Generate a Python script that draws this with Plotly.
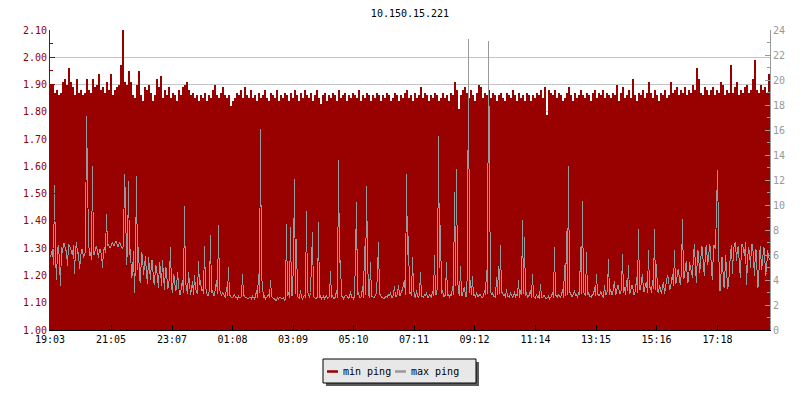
import plotly.graph_objects as go
import pandas as pd

# ---------------- data ----------------
title_text = "10.150.15.221"
start_time = "2024-01-01 19:03"
min_step_minutes = 4
max_step_minutes = 2

tick_labels = ["19:03", "21:05", "23:07", "01:08", "03:09", "05:10",
               "07:11", "09:12", "11:14", "13:15", "15:16", "17:18"]

# min ping (left axis units), one value every 4 minutes
min_ping = [
    1.90, 1.90, 1.87, 1.88, 1.86, 1.87, 1.91, 1.92, 1.90, 1.96, 1.91, 1.89, 1.86, 1.92, 1.87, 1.88, 1.86, 1.87, 1.92, 1.88,
    1.87, 1.92, 1.89, 1.90, 1.94, 1.88, 1.89, 1.87, 1.91, 1.88, 1.94, 1.86, 1.88, 1.89, 1.90, 1.97, 2.10, 1.91, 1.90, 1.95,
    1.91, 1.86, 1.85, 1.90, 1.95, 1.86, 1.84, 1.89, 1.88, 1.90, 1.87, 1.84, 1.86, 1.92, 1.89, 1.93, 1.85, 1.88, 1.86, 1.89,
    1.85, 1.87, 1.86, 1.84, 1.88, 1.86, 1.89, 1.90, 1.91, 1.88, 1.86, 1.87, 1.85, 1.86, 1.84, 1.86, 1.85, 1.87, 1.84, 1.86,
    1.85, 1.88, 1.90, 1.86, 1.85, 1.87, 1.89, 1.86, 1.85, 1.86, 1.82, 1.84, 1.85, 1.87, 1.86, 1.88, 1.85, 1.89, 1.86, 1.85,
    1.88, 1.85, 1.86, 1.84, 1.87, 1.85, 1.86, 1.88, 1.85, 1.84, 1.87, 1.86, 1.85, 1.88, 1.84, 1.86, 1.85, 1.87, 1.86, 1.84,
    1.87, 1.85, 1.88, 1.86, 1.84, 1.87, 1.85, 1.88, 1.86, 1.85, 1.87, 1.84, 1.86, 1.88, 1.85, 1.83, 1.86, 1.87, 1.84, 1.86,
    1.85, 1.87, 1.86, 1.84, 1.88, 1.85, 1.86, 1.87, 1.84, 1.86, 1.85, 1.87, 1.86, 1.85, 1.88, 1.84, 1.86, 1.85, 1.87, 1.86,
    1.84, 1.86, 1.85, 1.87, 1.86, 1.84, 1.86, 1.85, 1.87, 1.86, 1.84, 1.85, 1.87, 1.86, 1.84, 1.86, 1.85, 1.87, 1.88, 1.85,
    1.86, 1.84, 1.87, 1.85, 1.86, 1.89, 1.85, 1.87, 1.86, 1.84, 1.86, 1.85, 1.87, 1.86, 1.84, 1.85, 1.87, 1.85, 1.86, 1.84,
    1.87, 1.86, 1.91, 1.88, 1.81, 1.86, 1.88, 1.89, 1.87, 1.85, 1.88, 1.86, 1.84, 1.87, 1.90, 1.89, 1.85, 1.87, 1.86, 1.88,
    1.85, 1.87, 1.86, 1.84, 1.86, 1.87, 1.85, 1.84, 1.87, 1.86, 1.85, 1.88, 1.86, 1.84, 1.87, 1.85, 1.86, 1.84, 1.87, 1.86,
    1.84, 1.86, 1.85, 1.87, 1.86, 1.88, 1.85, 1.89, 1.79, 1.88, 1.87, 1.86, 1.88, 1.85, 1.87, 1.86, 1.84, 1.85, 1.87, 1.89,
    1.86, 1.84, 1.87, 1.85, 1.86, 1.88, 1.86, 1.85, 1.87, 1.86, 1.84, 1.87, 1.88, 1.85, 1.87, 1.86, 1.88, 1.85, 1.87, 1.86,
    1.85, 1.87, 1.86, 1.90, 1.84, 1.87, 1.89, 1.85, 1.86, 1.88, 1.85, 1.92, 1.86, 1.84, 1.87, 1.86, 1.88, 1.85, 1.87, 1.91,
    1.87, 1.85, 1.88, 1.86, 1.84, 1.87, 1.86, 1.88, 1.85, 1.86, 1.91, 1.87, 1.88, 1.89, 1.86, 1.88, 1.87, 1.89, 1.86, 1.88,
    1.87, 1.90, 1.88, 1.96, 1.92, 1.87, 1.86, 1.89, 1.88, 1.86, 1.88, 1.89, 1.86, 1.88, 1.87, 1.91, 1.90, 1.86, 1.88, 1.87,
    1.97, 1.87, 1.89, 1.91, 1.86, 1.88, 1.87, 1.89, 1.90, 1.87, 1.88, 1.92, 1.99, 1.88, 1.87, 1.90, 1.88, 1.89, 1.87, 1.94,
]

# max ping (right axis units), one value every 2 minutes
max_ping = [
    5.8, 6.3, 6.5, 5.2, 11.6, 6.0, 4.0, 6.5, 6.8, 5.4, 3.5, 6.6, 6.2, 6.9, 6.9, 6.4, 6.4, 5.1, 6.9, 6.7,
    6.6, 6.2, 6.0, 6.8, 4.5, 6.4, 7.0, 6.1, 6.2, 4.9, 5.6, 6.5, 6.4, 5.8, 6.0, 6.3, 17.1, 12.0, 7.3, 5.9,
    6.2, 5.6, 13.1, 6.1, 6.0, 6.6, 6.7, 6.3, 5.8, 6.5, 6.4, 6.0, 5.0, 6.4, 6.6, 6.2, 9.3, 6.7, 6.9, 6.6,
    6.6, 6.9, 7.0, 6.8, 6.8, 7.1, 7.1, 6.7, 6.7, 7.0, 6.9, 6.6, 6.5, 6.8, 12.5, 10.5, 5.2, 6.4, 11.9, 6.0,
    6.5, 4.2, 4.5, 6.3, 3.0, 5.5, 12.3, 4.8, 6.6, 4.1, 3.8, 6.2, 6.0, 4.4, 5.0, 5.9, 4.4, 3.7, 5.8, 4.6,
    4.0, 5.6, 5.5, 3.9, 3.6, 5.2, 5.0, 4.1, 3.4, 5.4, 4.8, 3.5, 5.6, 4.3, 3.2, 5.0, 4.9, 3.3, 3.4, 4.4,
    6.6, 3.4, 3.0, 4.5, 4.2, 3.1, 3.3, 4.6, 3.8, 2.8, 2.9, 3.6, 4.0, 3.0, 9.9, 3.8, 3.2, 2.9, 4.6, 3.4,
    2.8, 3.2, 3.9, 2.8, 4.4, 3.3, 3.1, 2.9, 5.5, 3.6, 4.0, 3.1, 3.3, 2.9, 6.7, 3.5, 3.0, 2.8, 2.8, 3.3,
    7.6, 3.0, 3.2, 2.8, 2.8, 3.5, 4.0, 2.9, 8.4, 3.3, 2.9, 2.7, 3.0, 2.8, 2.7, 2.6, 3.4, 2.7, 5.0, 2.8,
    2.7, 2.6, 2.6, 2.7, 2.8, 2.6, 2.6, 2.5, 2.7, 2.6, 2.6, 2.7, 4.5, 2.8, 2.7, 2.6, 2.6, 2.5, 2.5, 2.6,
    2.6, 2.5, 2.7, 2.6, 2.5, 2.7, 3.2, 2.6, 4.5, 3.0, 16.1, 4.4, 3.0, 2.6, 2.7, 2.5, 2.6, 2.7, 2.9, 2.6,
    4.0, 2.7, 2.6, 2.5, 2.5, 2.4, 2.3, 2.6, 2.5, 2.6, 2.6, 2.5, 2.5, 2.6, 2.4, 2.5, 8.5, 2.7, 3.0, 2.6,
    8.2, 2.8, 2.7, 5.8, 12.1, 2.9, 7.3, 2.7, 2.6, 2.5, 3.2, 2.6, 2.5, 2.7, 2.8, 2.6, 9.5, 3.1, 2.7, 2.6,
    3.0, 6.6, 7.8, 2.7, 2.6, 2.5, 2.5, 2.7, 8.6, 2.6, 2.7, 2.5, 2.6, 2.7, 2.5, 2.6, 2.8, 2.5, 2.6, 2.7,
    4.7, 2.6, 2.8, 2.5, 2.5, 2.7, 3.2, 2.6, 13.6, 5.4, 5.6, 2.7, 2.7, 2.5, 2.6, 2.8, 2.8, 2.6, 2.5, 2.7,
    3.1, 2.6, 2.6, 2.5, 2.7, 5.8, 10.2, 2.8, 3.0, 2.6, 2.6, 2.7, 3.5, 2.6, 6.7, 2.8, 11.5, 6.2, 2.9, 2.6,
    5.4, 2.7, 2.7, 2.6, 2.6, 2.8, 3.0, 4.6, 7.0, 2.9, 2.8, 2.6, 2.6, 2.5, 2.5, 2.7, 2.7, 2.6, 2.9, 2.7,
    3.0, 2.6, 2.6, 2.8, 3.5, 2.7, 2.7, 2.9, 3.6, 2.8, 2.8, 3.1, 3.2, 3.6, 4.0, 2.8, 12.5, 6.0, 7.5, 2.9,
    3.0, 2.7, 5.8, 3.4, 2.7, 2.6, 3.2, 2.7, 2.6, 2.8, 4.6, 2.7, 2.7, 2.6, 2.8, 2.7, 3.0, 2.6, 2.6, 2.8,
    2.7, 2.6, 3.1, 2.7, 6.0, 2.9, 2.8, 3.5, 15.5, 5.0, 8.4, 2.9, 3.2, 2.7, 2.7, 2.8, 5.4, 2.7, 2.8, 2.6,
    2.9, 2.7, 3.5, 2.8, 11.0, 3.5, 12.9, 4.2, 3.0, 2.7, 5.1, 2.8, 2.8, 3.3, 3.4, 2.7, 2.7, 5.0, 23.3, 3.0,
    4.0, 2.8, 4.3, 2.7, 2.8, 2.6, 3.0, 2.7, 2.7, 2.8, 2.9, 2.6, 2.6, 2.7, 3.2, 2.8, 4.8, 2.9, 23.1, 12.8,
    3.2, 2.8, 3.0, 2.7, 2.7, 2.6, 4.2, 2.8, 5.1, 2.9, 6.8, 3.0, 3.0, 2.7, 2.8, 2.6, 3.3, 2.7, 2.7, 2.6,
    3.0, 2.8, 2.6, 2.7, 3.1, 2.6, 2.8, 2.7, 4.0, 2.6, 3.2, 2.8, 8.8, 2.9, 7.4, 2.7, 3.0, 2.6, 2.7, 2.8,
    3.2, 2.6, 4.5, 2.7, 2.6, 2.5, 2.9, 2.6, 2.7, 2.5, 3.7, 2.6, 2.6, 2.7, 2.8, 2.5, 2.5, 2.6, 2.7, 2.5,
    2.6, 2.7, 3.0, 2.6, 6.6, 2.8, 2.7, 2.6, 2.9, 2.7, 2.6, 2.8, 3.3, 2.6, 5.2, 2.7, 7.9, 2.8, 13.1, 3.0,
    3.0, 2.7, 2.7, 2.9, 3.2, 2.7, 2.8, 2.6, 3.0, 2.8, 6.6, 2.9, 10.3, 3.0, 2.9, 2.7, 6.2, 2.8, 3.0, 2.7,
    2.7, 2.6, 2.9, 2.8, 3.4, 2.7, 4.5, 2.9, 2.8, 2.7, 3.1, 2.8, 2.7, 2.6, 3.6, 2.8, 2.9, 3.2, 5.7, 2.8,
    3.3, 2.9, 2.8, 3.4, 3.9, 2.8, 3.0, 3.6, 3.5, 2.9, 2.9, 3.3, 6.1, 3.0, 3.4, 2.8, 4.0, 3.1, 5.2, 2.9,
    3.0, 3.5, 3.6, 2.9, 2.8, 3.2, 4.2, 3.0, 8.1, 3.3, 3.2, 4.0, 4.5, 3.1, 3.1, 3.7, 3.8, 3.0, 6.4, 3.4,
    3.4, 3.0, 4.0, 3.3, 8.1, 3.2, 5.3, 3.1, 3.0, 3.6, 3.2, 2.9, 3.5, 3.8, 2.9, 3.4, 3.6, 4.4, 4.1, 3.2,
    3.4, 4.0, 4.5, 3.5, 6.4, 3.7, 3.8, 4.6, 4.9, 3.9, 3.6, 4.8, 8.9, 4.1, 4.2, 5.2, 5.5, 3.8, 3.9, 5.4,
    5.0, 4.4, 4.2, 6.1, 6.9, 4.8, 3.8, 6.4, 6.2, 4.6, 5.1, 6.7, 6.5, 5.0, 4.3, 6.5, 6.8, 5.2, 5.6, 6.9,
    6.6, 4.7, 4.0, 6.8, 6.7, 6.5, 10.5, 12.8, 7.9, 3.2, 3.1, 5.8, 5.8, 3.5, 3.4, 6.0, 5.0, 3.3, 3.6, 5.2,
    6.2, 6.8, 4.5, 6.4, 6.9, 7.0, 5.5, 6.6, 6.7, 4.9, 4.2, 6.9, 6.8, 6.5, 5.9, 7.0, 3.6, 5.5, 6.6, 6.2,
    5.0, 6.8, 6.9, 5.7, 4.3, 6.5, 6.3, 3.4, 3.5, 6.0, 6.7, 4.8, 5.4, 6.6, 6.5, 4.3, 4.6, 6.4, 5.9, 5.6,
]

# ---------------- derived ----------------
t0 = pd.Timestamp(start_time)
min_times = pd.date_range(t0, periods=len(min_ping), freq=f"{min_step_minutes}min")
# sample centred on its pixel column (1 px = 2 minutes)
max_times = pd.date_range(t0 + pd.Timedelta(minutes=max_step_minutes / 2),
                          periods=len(max_ping), freq=f"{max_step_minutes}min")
t_end = t0 + pd.Timedelta(hours=24)

tick_vals = []
for lab in tick_labels:
    h, m = map(int, lab.split(":"))
    t = t0.normalize() + pd.Timedelta(hours=h, minutes=m)
    if t < t0:
        t += pd.Timedelta(days=1)
    tick_vals.append(t)

RED = "#990000"
GRAY = "#999999"
FONT = "DejaVu Sans Mono"

# plot area in pixels
L, R, T, B = 50, 770, 30, 330


def px(x):
    return (x - L) / (R - L)


def py(y):
    return (B - y) / (B - T)


fig = go.Figure()
fig.add_trace(go.Bar(
    x=min_times, y=min_ping, width=min_step_minutes * 60 * 1000, offset=0,
    marker=dict(color=RED, line=dict(width=0)), name="min ping",
    showlegend=False, hoverinfo="skip",
))
fig.add_trace(go.Scatter(
    x=max_times, y=max_ping, yaxis="y2", mode="lines",
    line=dict(color=GRAY, width=1, shape="linear"), name="max ping",
    showlegend=False, hoverinfo="skip",
))

# legend drawn manually (box with shadow)
shapes = [
    dict(type="rect", xref="paper", yref="paper",
         x0=px(326), x1=px(479), y0=py(386), y1=py(362),
         fillcolor="#5a5a5a", line=dict(width=0), layer="above"),
    dict(type="rect", xref="paper", yref="paper",
         x0=px(323), x1=px(476), y0=py(383), y1=py(359),
         fillcolor="#e8e8e8", line=dict(color="black", width=1), layer="above"),
    dict(type="line", xref="paper", yref="paper",
         x0=px(327), x1=px(338), y0=py(371.5), y1=py(371.5),
         line=dict(color=RED, width=2.5), layer="above"),
    dict(type="line", xref="paper", yref="paper",
         x0=px(395), x1=px(406), y0=py(371.5), y1=py(371.5),
         line=dict(color=GRAY, width=2.5), layer="above"),
]
annotations = [
    dict(text="min ping", xref="paper", yref="paper", x=px(341), y=py(371),
         xanchor="left", yanchor="middle", showarrow=False,
         font=dict(family=FONT, size=10, color="black")),
    dict(text="max ping", xref="paper", yref="paper", x=px(409), y=py(371),
         xanchor="left", yanchor="middle", showarrow=False,
         font=dict(family=FONT, size=10, color="black")),
]

fig.update_layout(
    width=800, height=400,
    margin=dict(l=L, r=800 - R, t=T, b=400 - B),
    paper_bgcolor="white", plot_bgcolor="white",
    font=dict(family=FONT, size=10, color="black"),
    title=dict(text=title_text, x=px(410), xref="paper", xanchor="center",
               y=1 - 13 / 400, yref="container", yanchor="middle",
               font=dict(family=FONT, size=10, color="black")),
    bargap=0, showlegend=False,
    shapes=shapes, annotations=annotations,
    xaxis=dict(
        type="date", range=[t0, t_end], tickvals=tick_vals, ticktext=tick_labels,
        ticks="inside", ticklen=5, tickcolor="black", tickwidth=1,
        showline=True, linecolor="black", linewidth=1,
        showgrid=False, zeroline=False,
        tickfont=dict(family=FONT, size=10, color="black"),
    ),
    yaxis=dict(
        range=[1.0, 2.1], dtick=0.1, tick0=1.0, tickformat=".2f",
        ticks="inside", ticklen=5, tickcolor=RED, tickwidth=1,
        minor=dict(dtick=0.05, ticks="inside", ticklen=3, tickcolor=RED, showgrid=False),
        showline=True, linecolor=RED, linewidth=1,
        showgrid=True, gridcolor="#c4c4c4", gridwidth=1, zeroline=False,
        tickfont=dict(family=FONT, size=10, color=RED),
    ),
    yaxis2=dict(
        overlaying="y", side="right", range=[0, 24], dtick=2, tick0=0,
        ticks="inside", ticklen=5, tickcolor=GRAY, tickwidth=1,
        minor=dict(dtick=1, ticks="inside", ticklen=3, tickcolor=GRAY, showgrid=False),
        showline=True, linecolor=GRAY, linewidth=1,
        showgrid=False, zeroline=False,
        tickfont=dict(family=FONT, size=10, color=GRAY),
    ),
)

post_js = """
document.body.style.margin = '0';
document.body.style.padding = '0';
document.querySelectorAll('.scatterlayer path.js-line').forEach(function (p) {
    p.style.shapeRendering = 'crispEdges';
});
"""

fig.write_html("out.html", post_script=post_js, config={"displayModeBar": False})
